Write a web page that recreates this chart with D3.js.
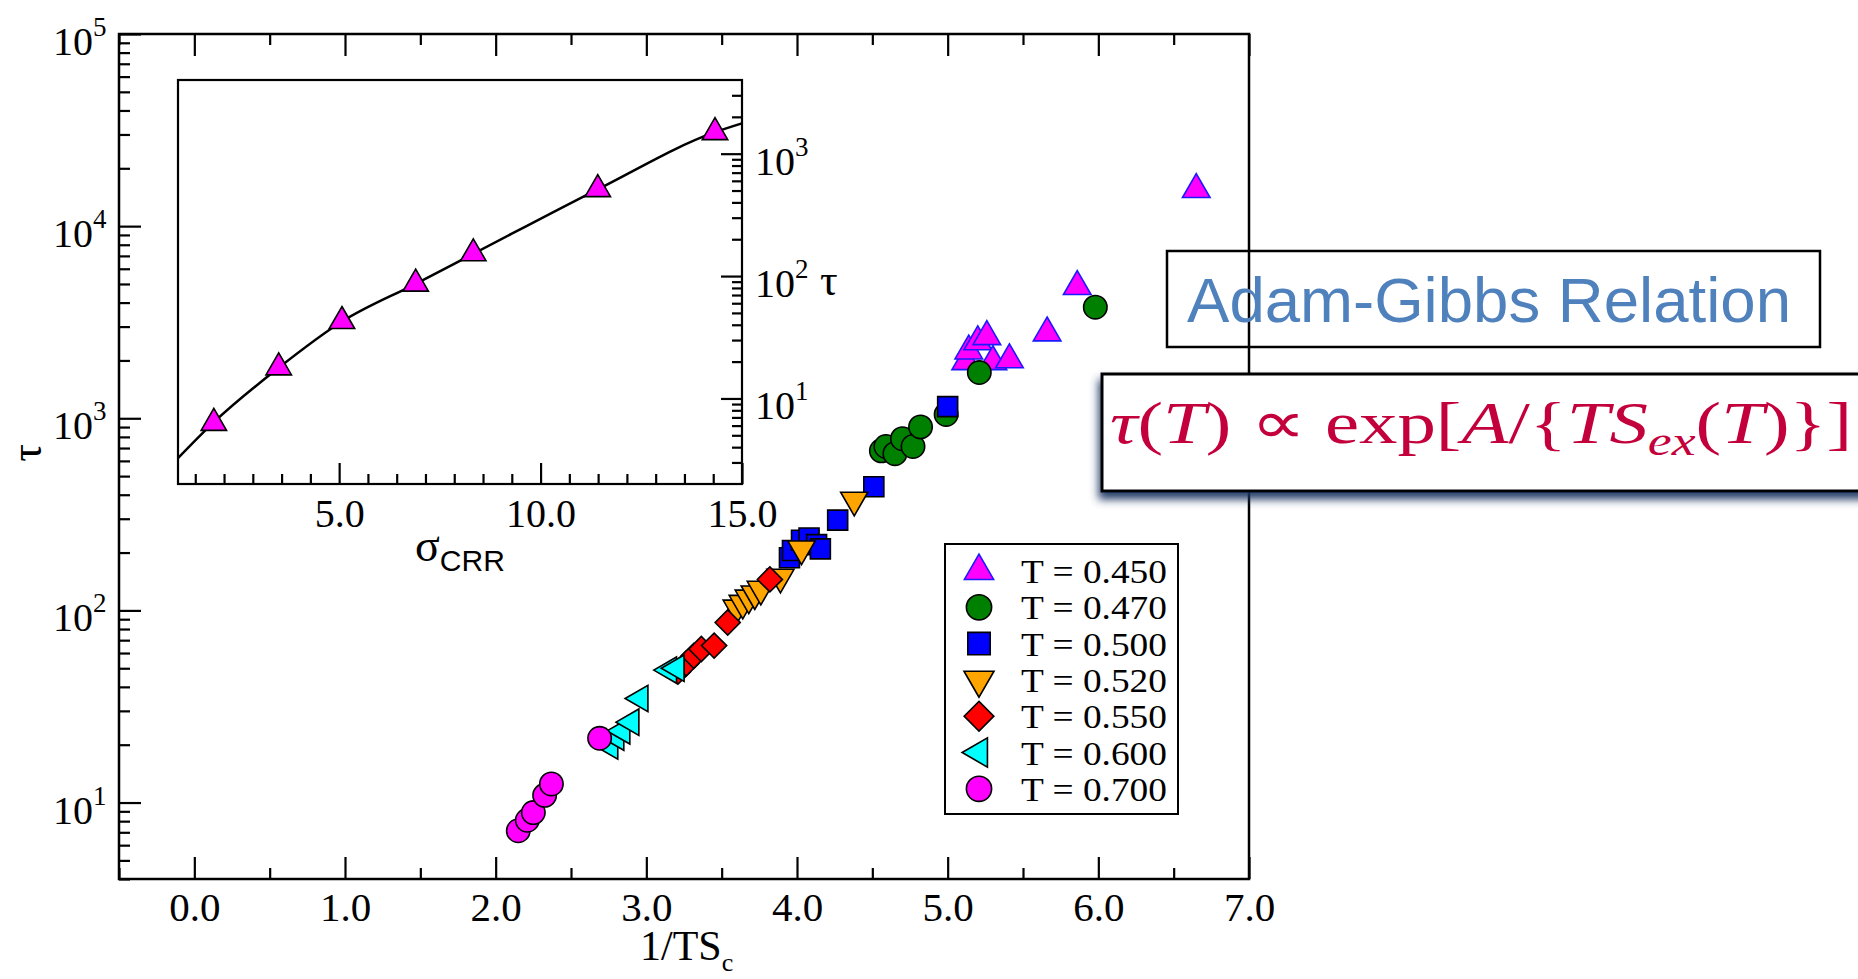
<!DOCTYPE html>
<html><head><meta charset="utf-8">
<script src="https://cdn.jsdelivr.net/npm/d3@7"></script>
<style>body{margin:0;background:#fff;} svg{display:block;}</style>
</head><body>
<svg id="chart" width="1858" height="979"></svg>
<script>
// ---------------- DATA ----------------
const seriesLabels = ["T = 0.450","T = 0.470","T = 0.500","T = 0.520","T = 0.550","T = 0.600","T = 0.700"];

const x450 = [5.12, 5.14, 5.20, 5.26, 5.30, 5.41, 5.66, 5.86, 6.65];
const y450 = [1970, 2240, 2500, 2660, 1970, 2015, 2780, 4850, 15500];

const x470 = [4.56, 4.59, 4.65, 4.70, 4.77, 4.82, 4.99, 5.21, 5.98];
const y470 = [677, 713, 654, 783, 713, 902, 1047, 1730, 3785];

const x500 = [3.95, 3.97, 4.03, 4.08, 4.13, 4.155, 4.27, 4.51, 5.00];
const y500 = [188, 205, 232, 238, 220, 209, 295, 440, 1150];

const x520 = [3.60, 3.64, 3.68, 3.72, 3.76, 3.89, 4.03, 4.38];
const y520 = [103, 109, 116, 122, 129, 149, 209, 375];

const x550 = [3.21, 3.265, 3.315, 3.365, 3.45, 3.54, 3.82];
const y550 = [48, 53, 58, 63, 65.6, 86.5, 145];

const x600 = [2.76, 2.80, 2.84, 2.90, 2.96, 3.15, 3.20];
const y600 = [19.7, 21.9, 23.6, 26.2, 34.8, 48.9, 50];

const x700 = [2.15, 2.21, 2.25, 2.325, 2.37, 2.69];
const y700 = [7.13, 8.09, 8.87, 10.9, 12.5, 21.6];

const xTickLabels = ["0.0","1.0","2.0","3.0","4.0","5.0","6.0","7.0"];
const yTickExps = [1, 2, 3, 4, 5];

// inset
const insetSigma = [1.89, 3.5, 5.07, 6.9, 8.33, 11.42, 14.33];
const insetTau   = [6.3, 17.9, 42.8, 86.5, 153, 512, 1496];
const fitSigma = [1.0, 1.89, 3.5, 5.07, 6.9, 8.33, 11.42, 14.33, 15.0];
const fitTau   = [3.25, 6.4, 17.8, 42.5, 86.5, 152, 512, 1500, 1770];
const insetXTickLabels = ["5.0", "10.0", "15.0"];
const insetYExps = [1, 2, 3];

// ---------------- SETUP ----------------
const svg = d3.select("#chart");
const SERIF = "'Liberation Serif','Times New Roman',serif";
const SANS = "'Liberation Sans',Arial,sans-serif";

const x = d3.scaleLinear([-0.5, 7.0], [119, 1249]);
const y = d3.scaleLog([4, 1e5], [879, 34]);
const ix = d3.scaleLinear([1, 15], [178, 742]);
const iy = d3.scaleLog([2, 4000], [484, 80]);

const styles = [
  {shape:"up", fill:"#ff00ff", stroke:"#1a1aff"},
  {shape:"circle", fill:"#008000", stroke:"#000"},
  {shape:"square", fill:"#0000ff", stroke:"#000"},
  {shape:"down", fill:"#ffa500", stroke:"#000"},
  {shape:"diamond", fill:"#ff0000", stroke:"#000"},
  {shape:"left", fill:"#00ffff", stroke:"#000"},
  {shape:"circle", fill:"#ff00ff", stroke:"#000"}
];
const seriesX = [x450, x470, x500, x520, x550, x600, x700];
const seriesY = [y450, y470, y500, y520, y550, y600, y700];

const areaMain = {up: 330, down: 320, left: 300, circle: 430, square: 400, diamond: 315};
const areaLegend = {up: 370, down: 390, left: 370, circle: 500, square: 500, diamond: 440};
function symPath(shape, areas) {
  const a = areas[shape];
  switch (shape) {
    case "up": case "down": case "left": return d3.symbol(d3.symbolTriangle, a)();
    case "circle": return d3.symbol(d3.symbolCircle, a)();
    case "square": case "diamond": return d3.symbol(d3.symbolSquare, a)();
  }
}
function symRot(shape) {
  return shape === "down" ? 180 : shape === "left" ? -90 : shape === "diamond" ? 45 : 0;
}

// ---------------- MAIN AXES ----------------
const main = svg.append("g");
function addAxis(g, axis, transform) {
  const a = g.append("g").attr("transform", transform).call(axis);
  a.select(".domain").remove();
  a.selectAll(".tick line").attr("stroke", "#000").attr("stroke-width", 2.2);
  return a;
}
const xMajor = d3.range(0, 8);
const xMinor = d3.range(-0.5, 7, 1);
// bottom
const bx = addAxis(main, d3.axisBottom(x).tickValues(xMajor).tickSize(-22).tickPadding(13)
  .tickFormat((d, i) => xTickLabels[i]), `translate(0,879)`);
bx.selectAll(".tick text").attr("font-family", SERIF).attr("font-size", 41).attr("fill", "#000");
addAxis(main, d3.axisBottom(x).tickValues(xMinor).tickSize(-11).tickFormat(""), `translate(0,879)`);
// top
addAxis(main, d3.axisTop(x).tickValues(xMajor).tickSize(-22).tickFormat(""), `translate(0,34)`);
addAxis(main, d3.axisTop(x).tickValues(xMinor).tickSize(-11).tickFormat(""), `translate(0,34)`);
// left
const yMajor = yTickExps.map(e => Math.pow(10, e));
const yMinor = [];
for (let e = 0; e <= 4; e++) for (let m = 2; m <= 9; m++) { const v = m * Math.pow(10, e); if (v >= 4 && v <= 1e5) yMinor.push(v); }
addAxis(main, d3.axisLeft(y).tickValues(yMajor).tickSize(-22).tickFormat(""), `translate(119,0)`);
addAxis(main, d3.axisLeft(y).tickValues(yMinor).tickSize(-11).tickFormat(""), `translate(119,0)`);
const yl = main.append("g");
yTickExps.forEach(e => {
  const ty = y(Math.pow(10, e));
  yl.append("text").attr("x", 93).attr("y", ty + 21).attr("text-anchor", "end")
    .attr("font-family", SERIF).attr("font-size", 40).text("10");
  yl.append("text").attr("x", 93).attr("y", ty + 2).attr("text-anchor", "start")
    .attr("font-family", SERIF).attr("font-size", 27).text(e);
});
// frame
main.append("rect").attr("x", 119).attr("y", 34).attr("width", 1249 - 119).attr("height", 879 - 34)
  .attr("fill", "none").attr("stroke", "#000").attr("stroke-width", 2.5);
// axis titles
const xt = main.append("text").attr("x", 640).attr("y", 960).attr("font-family", SERIF).attr("font-size", 42);
xt.append("tspan").text("1/TS");
xt.append("tspan").attr("font-size", 26).attr("dy", 11).text("c");
main.append("text").attr("transform", "translate(41,453) rotate(-90)").attr("text-anchor", "middle")
  .attr("font-family", SERIF).attr("font-size", 44).text("τ");

// ---------------- INSET ----------------
const inset = svg.append("g");
const iMinor = d3.range(2, 21).filter(k => k % 7 !== 0).map(k => k * 5 / 7).filter(v => v > 1 && v < 15);
const ibx = addAxis(inset, d3.axisBottom(ix).tickValues([5, 10, 15]).tickSize(-21).tickPadding(15)
  .tickFormat((d, i) => insetXTickLabels[i]), `translate(0,484)`);
ibx.selectAll(".tick text").attr("font-family", SERIF).attr("font-size", 40).attr("fill", "#000");
addAxis(inset, d3.axisBottom(ix).tickValues(iMinor).tickSize(-10).tickFormat(""), `translate(0,484)`);
const iyMajor = insetYExps.map(e => Math.pow(10, e));
const iyMinor = [];
for (let e = 0; e <= 3; e++) for (let m = 2; m <= 9; m++) { const v = m * Math.pow(10, e); if (v > 2 && v < 4000) iyMinor.push(v); }
addAxis(inset, d3.axisRight(iy).tickValues(iyMajor).tickSize(-21).tickFormat(""), `translate(742,0)`);
addAxis(inset, d3.axisRight(iy).tickValues(iyMinor).tickSize(-10).tickFormat(""), `translate(742,0)`);
insetYExps.forEach(e => {
  const ty = iy(Math.pow(10, e));
  inset.append("text").attr("x", 755).attr("y", ty + 21).attr("font-family", SERIF).attr("font-size", 40).text("10");
  inset.append("text").attr("x", 795).attr("y", ty + 2).attr("font-family", SERIF).attr("font-size", 27).text(e);
  if (e === 2) inset.append("text").attr("x", 820).attr("y", ty + 19).attr("font-family", SERIF).attr("font-size", 44).text("τ");
});
inset.append("rect").attr("x", 178).attr("y", 80).attr("width", 742 - 178).attr("height", 484 - 80)
  .attr("fill", "none").attr("stroke", "#000").attr("stroke-width", 2.2);
const fitLine = d3.line().x(d => ix(d[0])).y(d => iy(d[1])).curve(d3.curveMonotoneX);
inset.append("path").datum(fitSigma.map((s, i) => [s, fitTau[i]])).attr("d", fitLine)
  .attr("fill", "none").attr("stroke", "#000").attr("stroke-width", 2.5);
inset.selectAll(".itri").data(insetSigma.map((s, i) => [s, insetTau[i]])).join("path")
  .attr("d", d3.symbol(d3.symbolTriangle, 280)()).attr("transform", d => `translate(${ix(d[0])},${iy(d[1])})`)
  .attr("fill", "#ff00ff").attr("stroke", "#000").attr("stroke-width", 1.6);
const ist = inset.append("text").attr("x", 415).attr("y", 561).attr("font-family", SERIF).attr("font-size", 46);
ist.append("tspan").text("σ");
ist.append("tspan").attr("font-family", SANS).attr("font-size", 30).attr("dy", 10).text("CRR");

// ---------------- MAIN DATA ----------------
const pts = svg.append("g");
seriesX.forEach((xs, si) => {
  const st = styles[si];
  pts.append("g").selectAll("path").data(xs.map((v, i) => [v, seriesY[si][i]])).join("path")
    .attr("d", symPath(st.shape, areaMain))
    .attr("transform", d => `translate(${x(d[0])},${y(d[1])}) rotate(${symRot(st.shape)})`)
    .attr("fill", st.fill).attr("stroke", st.stroke).attr("stroke-width", 1.6);
});

// ---------------- LEGEND ----------------
const lg = svg.append("g");
lg.append("rect").attr("x", 945).attr("y", 544).attr("width", 233).attr("height", 270)
  .attr("fill", "#fff").attr("stroke", "#000").attr("stroke-width", 2);
seriesLabels.forEach((lab, i) => {
  const cy = 571 + i * 36.3, st = styles[i];
  lg.append("path").attr("d", symPath(st.shape, areaLegend))
    .attr("transform", `translate(979,${cy}) rotate(${symRot(st.shape)})`)
    .attr("fill", st.fill).attr("stroke", st.stroke).attr("stroke-width", 1.6);
  lg.append("text").attr("x", 1021).attr("y", cy + 12).attr("font-family", SERIF).attr("font-size", 34)
    .attr("textLength", 146).attr("lengthAdjust", "spacingAndGlyphs").text(lab);
});

// ---------------- ANNOTATIONS ----------------
const defs = svg.append("defs");
const f = defs.append("filter").attr("id", "shadow").attr("x", "-10%").attr("y", "-20%").attr("width", "130%").attr("height", "150%");
f.append("feDropShadow").attr("dx", -2).attr("dy", 7).attr("stdDeviation", 4)
  .attr("flood-color", "#1f3864").attr("flood-opacity", 0.95);

const ann = svg.append("g");
ann.append("rect").attr("x", 1167).attr("y", 251).attr("width", 653).attr("height", 96)
  .attr("fill", "none").attr("stroke", "#000").attr("stroke-width", 2.5);
ann.append("text").attr("x", 1187).attr("y", 322).attr("font-family", SANS).attr("font-size", 63)
  .attr("fill", "#4f81bd").attr("textLength", 604).attr("lengthAdjust", "spacingAndGlyphs").text("Adam-Gibbs Relation");

ann.append("rect").attr("x", 1102).attr("y", 374).attr("width", 800).attr("height", 117)
  .attr("fill", "#fff").attr("stroke", "#000").attr("stroke-width", 3).attr("filter", "url(#shadow)");
const fm = ann.append("text").attr("x", 1110).attr("y", 443).attr("font-family", SERIF).attr("font-size", 60)
  .attr("fill", "#c4003c").attr("textLength", 742).attr("lengthAdjust", "spacingAndGlyphs");
fm.append("tspan").attr("font-style", "italic").text("τ");
fm.append("tspan").text("(");
fm.append("tspan").attr("font-style", "italic").text("T");
fm.append("tspan").text(") ∝ exp[");
fm.append("tspan").attr("font-style", "italic").text("A");
fm.append("tspan").text("/{");
fm.append("tspan").attr("font-style", "italic").text("TS");
fm.append("tspan").attr("font-style", "italic").attr("font-size", 42).attr("dy", 12).text("ex");
fm.append("tspan").attr("dy", -12).text("(");
fm.append("tspan").attr("font-style", "italic").text("T");
fm.append("tspan").text(")}]");
</script>
</body></html>
